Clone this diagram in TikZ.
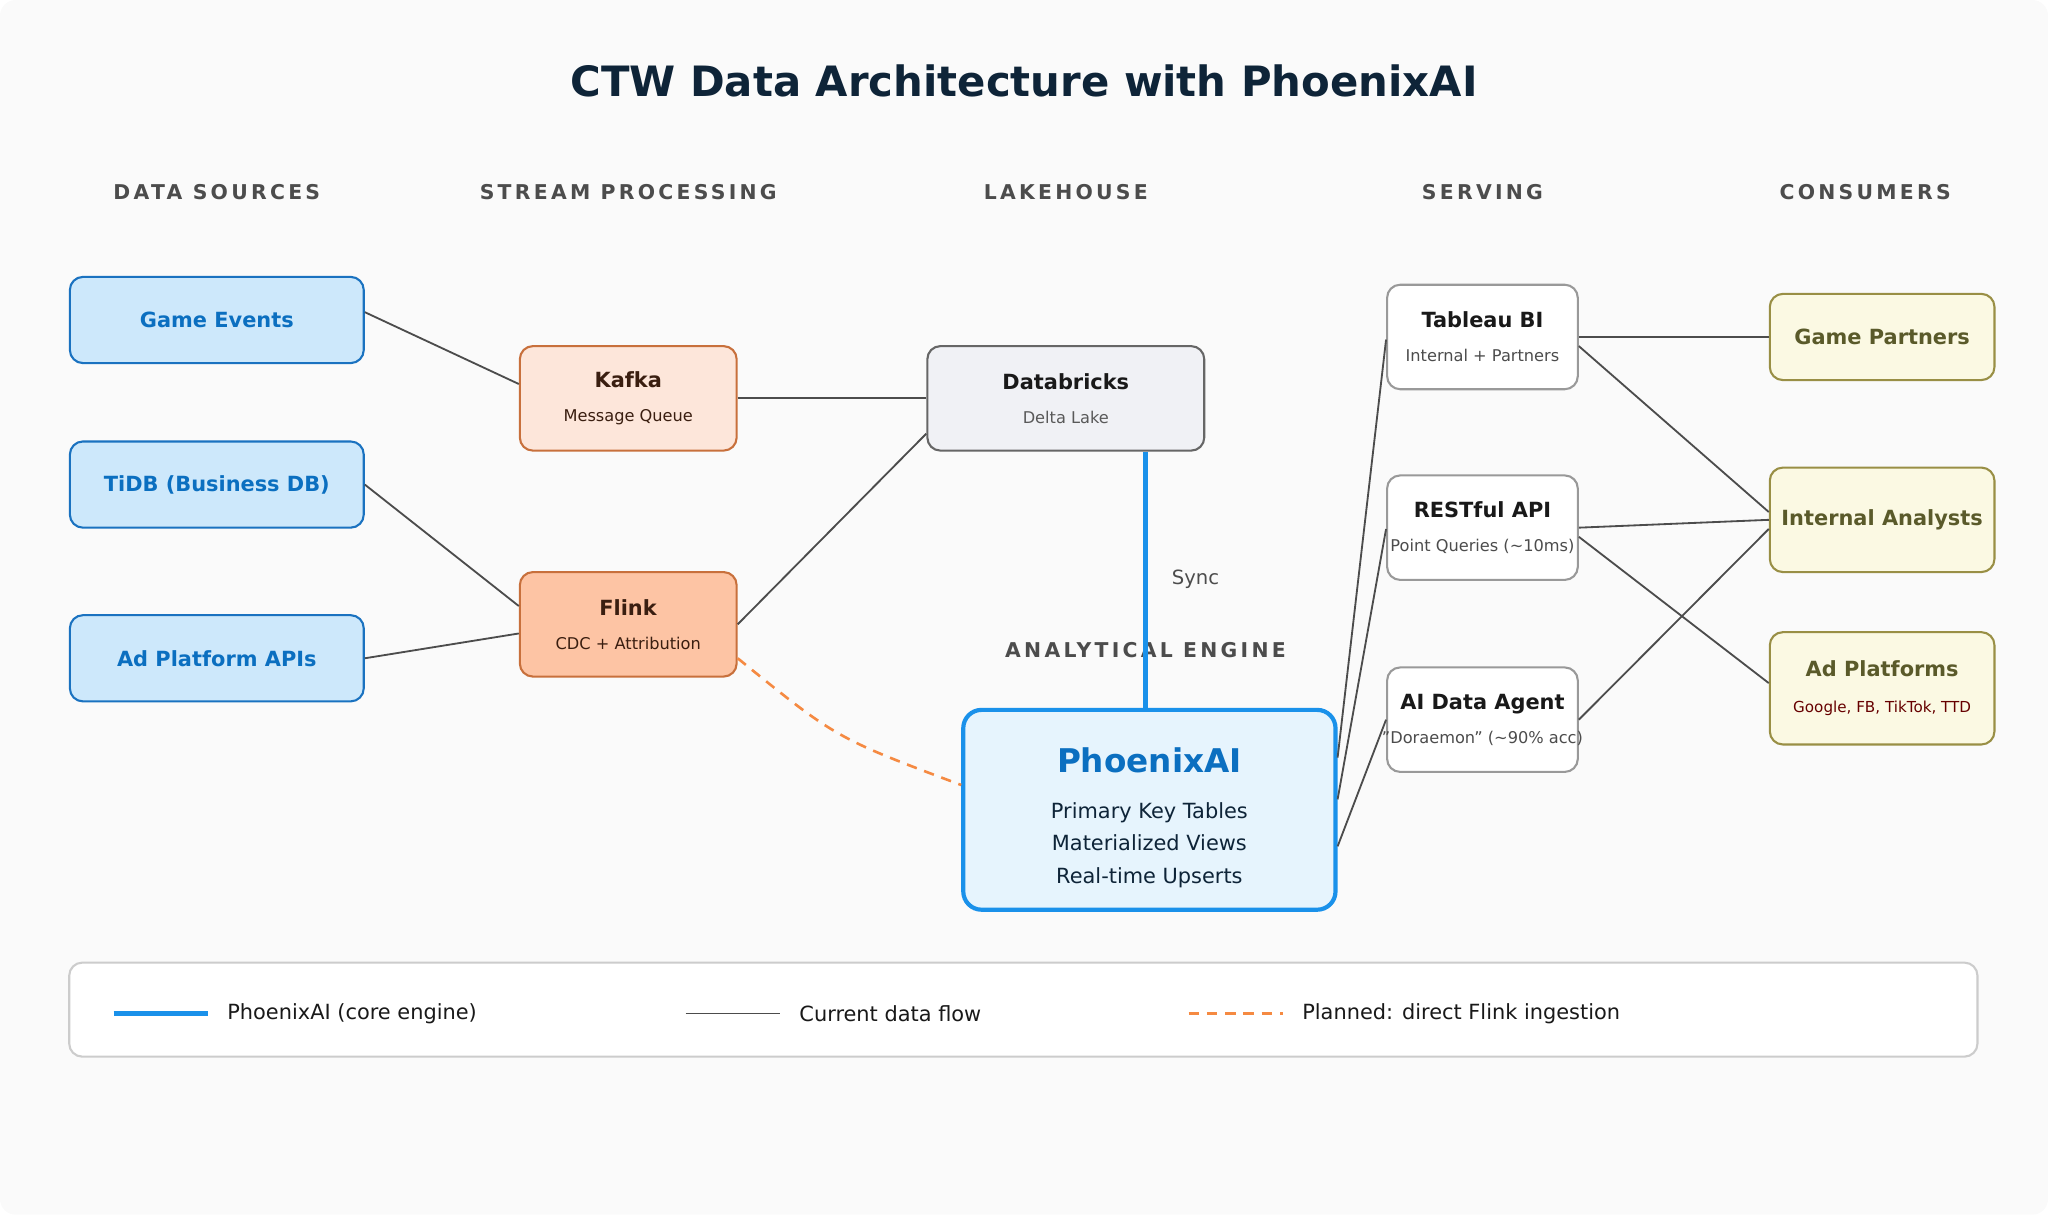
\documentclass[tikz,border=0pt]{standalone}
\usepackage{fontspec}
\setmainfont{DejaVu Sans}
\usetikzlibrary{calc}
\usetikzlibrary{positioning}
\usetikzlibrary{arrows.meta}
\definecolor{srcfill}{HTML}{CDE8FB}
\definecolor{srcdraw}{HTML}{1A72C0}
\definecolor{srctext}{HTML}{0B6FC0}
\definecolor{kafill}{HTML}{FDE6DA}
\definecolor{flfill}{HTML}{FDC4A4}
\definecolor{stdraw}{HTML}{C8703C}
\definecolor{sttext}{HTML}{3A1E10}
\definecolor{dbfill}{HTML}{F0F1F5}
\definecolor{phfill}{HTML}{E6F4FD}
\definecolor{phdraw}{HTML}{1A91EA}
\definecolor{cofill}{HTML}{FBF9E3}
\definecolor{codraw}{HTML}{998F45}
\definecolor{cotext}{HTML}{5A5A2A}
\definecolor{titletext}{HTML}{0E2438}
\definecolor{plan}{HTML}{F58A42}
\newcommand{\subtxt}{\fontsize{6.2}{8}\selectfont}
\begin{document}
\begin{tikzpicture}[x=0.5pt, y=-0.5pt, font=\fontsize{8}{10}\selectfont]
	\tikzstyle{box}=[rectangle, rounded corners=5pt, line width=0.8pt, align=center, inner sep=0pt]
	\tikzstyle{source}=[box, draw=srcdraw, fill=srcfill, text=srctext, font=\fontsize{8}{10}\selectfont\bfseries, minimum width=112.5pt, minimum height=33pt]
	\tikzstyle{stream}=[box, draw=stdraw, text=sttext, minimum width=83pt, minimum height=40pt]
	\tikzstyle{serve}=[box, draw=black!40, fill=white, text=black!90, minimum width=73pt, minimum height=40pt]
	\tikzstyle{consumer}=[box, draw=codraw, fill=cofill, text=cotext, font=\fontsize{8}{10}\selectfont\bfseries, minimum width=86pt, minimum height=33pt]
	\tikzstyle{header}=[text=black!70, font=\fontsize{7.8}{9}\selectfont\bfseries\addfontfeature{LetterSpace=16}]
	\tikzstyle{flow}=[draw=black!70, line width=0.7pt]
	\tikzstyle{core}=[draw=phdraw, line width=1.6pt]
	\tikzstyle{planned}=[draw=plan, line width=1pt, dash pattern=on 4pt off 3pt]

	% background
	\fill[fill=black!2, rounded corners=6pt] (0,0) rectangle (1568,930);
	\node[text=titletext, font=\fontsize{16}{19}\selectfont\bfseries] (title) at (784,62) {CTW Data Architecture with PhoenixAI};

	% column headers
	\node[header] (hsrc) at (166,147) {DATA SOURCES};
	\node[header] (hstr) at (481,147) {STREAM PROCESSING};
	\node[header] (hlake) at (816,147) {LAKEHOUSE};
	\node[header] (hserv) at (1135,147) {SERVING};
	\node[header] (hcons) at (1428,147) {CONSUMERS};
	\node[header] (heng) at (877,498) {ANALYTICAL ENGINE};

	% sources
	\node[source] (events) at (166,245) {Game Events};
	\node[source] (tidb) at (166,371) {TiDB (Business DB)};
	\node[source] (adapi) at (166,504) {Ad Platform APIs};

	% stream processing
	\node[stream, fill=kafill] (kafka) at (481,305) {\textbf{Kafka}\\[3pt]{\subtxt Message Queue}};
	\node[stream, fill=flfill] (flink) at (481,478) {\textbf{Flink}\\[3pt]{\subtxt CDC + Attribution}};

	% lakehouse
	\node[box, draw=black!60, fill=dbfill, text=black!90, minimum width=106pt, minimum height=40pt] (databricks) at (816,305) {\textbf{Databricks}\\[3pt]{\subtxt\color{black!65}Delta Lake}};

	% engine
	\node[box, draw=phdraw, line width=1.6pt, fill=phfill, rounded corners=7pt, minimum width=142.5pt, minimum height=76.5pt] (phoenix) at (880,620) {};
	\node[text=srctext, font=\fontsize{12.5}{15}\selectfont\bfseries] (phname) at (880,582) {PhoenixAI};
	\node[text=titletext, align=center, font=\fontsize{8}{12.5}\selectfont] (phtext) at (880,647) {Primary Key Tables\\Materialized Views\\Real-time Upserts};

	% serving
	\node[serve] (tableau) at (1135,258) {\textbf{Tableau BI}\\[3pt]{\subtxt\color{black!70}Internal + Partners}};
	\node[serve] (rest) at (1135,404) {\textbf{RESTful API}\\[3pt]{\subtxt\color{black!70}\makebox[0pt]{Point Queries (\textasciitilde10ms)}}};
	\node[serve] (agent) at (1135,551) {\textbf{AI Data Agent}\\[3pt]{\subtxt\color{black!70}\makebox[0pt]{\symbol{34}Doraemon\symbol{34} (\textasciitilde90\% acc)}}};

	% consumers
	\node[consumer] (partners) at (1441,258) {Game Partners};
	\node[consumer, minimum height=40pt] (analysts) at (1441,398) {Internal Analysts};
	\node[box, draw=codraw, fill=cofill, minimum width=86pt, minimum height=43pt] (adplat) at (1441,527) {{\bfseries\color{cotext}Ad Platforms}\\[4pt]{\fontsize{5.8}{7}\selectfont\color{red!40!black}Google, FB, TikTok, TTD}};

	% connectors
	\draw[flow] ($(events.east)+(0,-6)$) -- ($(kafka.west)+(0,-11)$);
	\draw[flow] (tidb.east) -- ($(flink.west)+(0,-14)$);
	\draw[flow] (adapi.east) -- ($(flink.west)+(0,7)$);
	\draw[flow] (kafka.east) -- (databricks.west);
	\draw[flow] (flink.east) -- ($(databricks.west)+(0,27)$);
	\draw[core] ($(databricks.south)+(61,0)$) -- node[right=6pt, text=black!70, font=\fontsize{7.5}{9}\selectfont] {Sync} ($(phoenix.north)+(-3,0)$);
	\draw[planned] ($(flink.east)+(0,26)$) .. controls (640,565) .. ($(phoenix.west)+(0,-19)$);
	\draw[flow] ($(phoenix.east)+(0,-40)$) -- ($(tableau.west)+(0,2)$);
	\draw[flow] ($(phoenix.east)+(0,-8)$) -- ($(rest.west)+(0,1)$);
	\draw[flow] ($(phoenix.east)+(0,28)$) -- (agent.west);
	\draw[flow] (tableau.east) -- (partners.west);
	\draw[flow] ($(tableau.east)+(0,7)$) -- ($(analysts.west)+(0,-6)$);
	\draw[flow] (rest.east) -- (analysts.west);
	\draw[flow] ($(rest.east)+(0,7)$) -- ($(adplat.west)+(0,-4)$);
	\draw[flow] (agent.east) -- ($(analysts.west)+(0,7)$);

	% legend
	\node[box, draw=black!20, fill=white, minimum width=730.5pt, minimum height=36pt] (legend) at (783.5,773) {};
	\coordinate (l1a) at (87,776); \coordinate (l1b) at (159,776);
	\coordinate (l2a) at (525,776); \coordinate (l2b) at (597,776);
	\coordinate (l3a) at (910,776); \coordinate (l3b) at (982,776);
	\draw[core] (l1a) -- (l1b);
	\draw[flow] (l2a) -- (l2b);
	\draw[planned] (l3a) -- (l3b);
	\node[right=4pt of l1b, text=black!90] (leg1) {PhoenixAI (core engine)};
	\node[right=4pt of l2b, text=black!90] (leg2) {Current data flow};
	\node[right=4pt of l3b, text=black!90] (leg3) {Planned: direct Flink ingestion};
\end{tikzpicture}
\end{document}
